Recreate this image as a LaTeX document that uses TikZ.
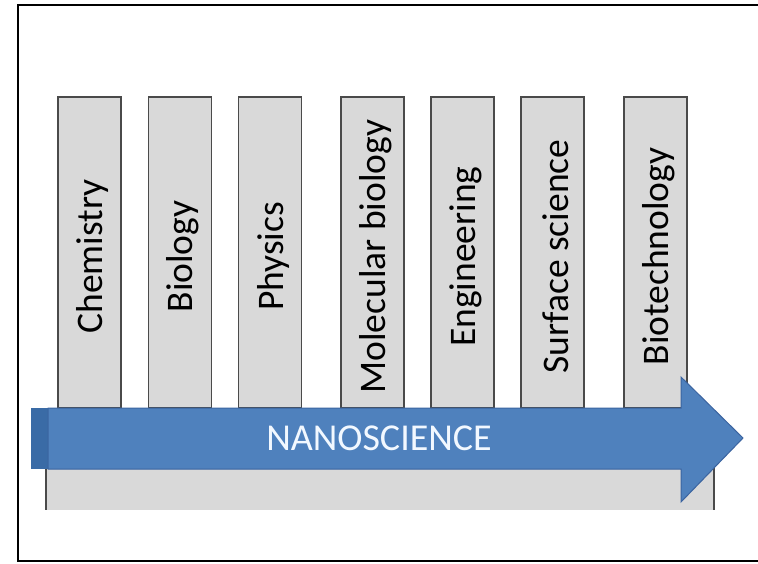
\documentclass[tikz,border=0pt]{standalone}
\usepackage{fontspec}
\setmainfont{Carlito}
\definecolor{boxgray}{HTML}{D9D9D9}
\definecolor{boxline}{HTML}{4A4A4A}
\definecolor{arrowblue}{HTML}{4F81BD}
\definecolor{arrowdark}{HTML}{3A6BA6}
\definecolor{arrowedge}{HTML}{3B64A0}
\definecolor{nanotext}{HTML}{F2F8FF}
\begin{document}
\begin{tikzpicture}[x=1pt,y=-1pt,
  fieldbox/.style={draw=boxline, line width=1.3pt, fill=boxgray,
    minimum width=63pt, minimum height=311pt, inner sep=0pt},
  fieldlabel/.style={rotate=90, inner sep=0pt, xshift=-4pt, yshift=-3pt,
    font=\fontsize{37.5}{40}\selectfont, text=black},
  frame/.style={draw=black, line width=2pt}]
\useasboundingbox (0,0) rectangle (758,563);
\fill[white] (0,0) rectangle (758,563);
\draw[frame] (770,5) -- (18,5) -- (18,561) -- (770,561);
% base bar
\fill[boxgray] (46,466) rectangle (715,510);
\draw[boxline, line width=1.3pt] (46,466) -- (46,510);
\draw[boxline, line width=1.3pt] (714,466) -- (714,510);
% field boxes
\node[fieldbox] (chem) at (89.5,252.5) {};
\node[fieldbox] (bio) at (180,252.5) {};
\node[fieldbox] (phys) at (270,252.5) {};
\node[fieldbox] (mol) at (372.5,252.5) {};
\node[fieldbox] (eng) at (462.5,252.5) {};
\node[fieldbox] (surf) at (552.5,252.5) {};
\node[fieldbox] (biot) at (655.5,252.5) {};
\node[fieldlabel] (chemL) at (chem.center) {Chemistry};
\node[fieldlabel] (bioL) at (bio.center) {Biology};
\node[fieldlabel] (physL) at (phys.center) {Physics};
\node[fieldlabel] (molL) at (mol.center) {Molecular biology};
\node[fieldlabel] (engL) at (eng.center) {Engineering};
\node[fieldlabel] (surfL) at (surf.center) {Surface science};
\node[fieldlabel] (biotL) at (biot.center) {Biotechnology};
% arrow
\fill[arrowdark] (31,408) rectangle (49,469);
\filldraw[fill=arrowblue, draw=arrowedge, line width=1pt, line join=miter]
  (48,408) -- (681,408) -- (681,377) -- (743,438) -- (681,502) -- (681,469) -- (48,469) -- cycle;
\node[font=\fontsize{38}{40}\selectfont, text=nanotext] (nano) at (379,438) {NANOSCIENCE};
\end{tikzpicture}
\end{document}
